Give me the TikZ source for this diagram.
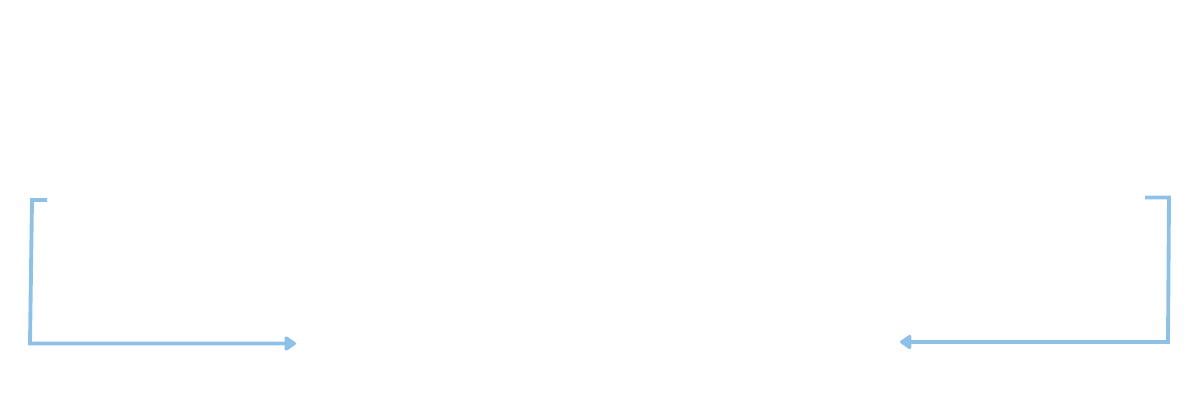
\documentclass[tikz,border=0pt]{standalone}
\usetikzlibrary{arrows.meta}
\definecolor{linkblue}{HTML}{8EC1E8}
\tikzset{link/.style={-{Triangle[length=3.6pt,width=4.6pt,round]}, draw=linkblue, line width=1.1pt, line join=miter}}

\begin{document}
\begin{tikzpicture}
     \useasboundingbox (0,0) rectangle (12,4);

     \coordinate (inL) at (0.47,2.00);
     \coordinate (outL) at (2.96,0.565);
     \coordinate (inR) at (11.45,2.025);
     \coordinate (outR) at (9.00,0.58);

     \draw[link] (inL) -- (0.32,2.00) -- (0.30,0.565) -- (outL);
     \draw[link] (inR) -- (11.69,2.025) -- (11.68,0.58) -- (outR);
    \end{tikzpicture}
\end{document}
